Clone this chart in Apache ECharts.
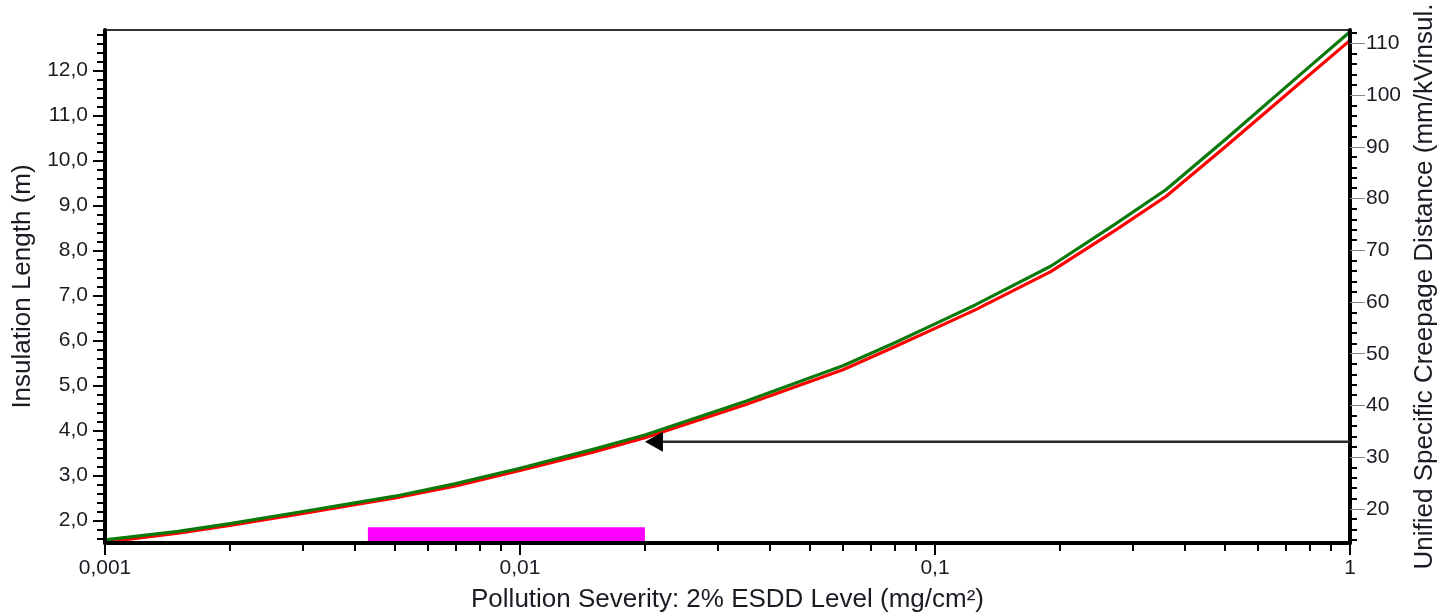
<!DOCTYPE html>
<html>
<head>
<meta charset="utf-8">
<script src="https://cdn.jsdelivr.net/npm/echarts@6/dist/echarts.min.js"></script>
<style>
  html, body { margin: 0; padding: 0; background: #fff; }
  #chart { width: 1442px; height: 616px; }
</style>
</head>
<body>
<div id="chart"></div>
<script>
// ESDD levels (mg/cm²) where the two curves are sampled
const esdd = [0.001, 0.0015, 0.002, 0.003, 0.004, 0.005, 0.007, 0.01, 0.015, 0.02, 0.035,
              0.06, 0.08, 0.1, 0.125, 0.19, 0.27, 0.36, 0.5, 0.75, 1];
// Required insulation length (m), upper (green) curve
const lengthGreen = [1.57, 1.76, 1.93, 2.20, 2.39, 2.54, 2.82, 3.16, 3.58, 3.90, 4.65,
                     5.44, 5.95, 6.37, 6.79, 7.65, 8.57, 9.35, 10.46, 11.87, 12.86];
// Required insulation length (m), lower (red) curve
const lengthRed = [1.52, 1.72, 1.89, 2.16, 2.35, 2.50, 2.77, 3.11, 3.52, 3.84, 4.58,
                   5.35, 5.86, 6.27, 6.68, 7.53, 8.43, 9.20, 10.30, 11.69, 12.67];

// Site pollution range marked along the ESDD axis, and its height in metres
const rangeEsdd = [0.0043, 0.02];
const rangeLength = [1.5, 1.85];

// Reading arrow: USCD value (right axis) and the ESDD span it covers
const arrowUscd = 33;
const arrowEsdd = [0.02, 1];

// Axis ranges
const xRange = [0.001, 1];
const leftRange = [1.5, 12.9];
const rightRange = [13.4, 112.6];

// Tick labels
const xLabelValues = [0.001, 0.01, 0.1, 1];
const xLabelTexts = ['0,001', '0,01', '0,1', '1'];
const leftLabelValues = [2, 3, 4, 5, 6, 7, 8, 9, 10, 11, 12];
const leftLabelTexts = ['2,0', '3,0', '4,0', '5,0', '6,0', '7,0', '8,0', '9,0', '10,0', '11,0', '12,0'];
const rightLabelValues = [20, 30, 40, 50, 60, 70, 80, 90, 100, 110];

// Minor tick positions: 2..9 within each decade, every 0.2 m, every 2 mm/kV
const xMinorValues = [];
[0.001, 0.01, 0.1].forEach(d => { for (let k = 2; k <= 9; k++) xMinorValues.push(+(d * k).toPrecision(6)); });
const leftMinorValues = [];
for (let v = 16; v <= 128; v += 2) if (v % 10 !== 0) leftMinorValues.push(v / 10);
const rightMinorValues = [];
for (let v = 14; v <= 112; v += 2) if (v % 10 !== 0) rightMinorValues.push(v);

const FONT = '"Liberation Sans", Arial, Helvetica, sans-serif';
const TEXT = '#1b1b24';

const chart = echarts.init(document.getElementById('chart'), null, { renderer: 'canvas' });

const plainAxis = {
  axisLine: { show: false },
  axisLabel: { show: false },
  splitLine: { show: false },
  minorTick: { show: false },
  minorSplitLine: { show: false },
  z: 5
};

chart.setOption({
  animation: false,
  backgroundColor: '#fff',
  grid: {
    left: 105, right: 92, top: 30, bottom: 73,
    outerBoundsMode: 'none', containLabel: false,
    show: true, borderColor: '#333', borderWidth: 2, backgroundColor: '#fff'
  },
  xAxis: [
    {
      type: 'log', logBase: 10, min: xRange[0], max: xRange[1], position: 'bottom', z: 5,
      name: 'Pollution Severity: 2% ESDD Level (mg/cm²)',
      nameLocation: 'middle', nameGap: 44,
      nameTextStyle: { fontSize: 26, color: TEXT, fontFamily: FONT },
      axisLine: { show: true, onZero: false, lineStyle: { color: '#000', width: 4 } },
      axisTick: { show: true, customValues: xLabelValues, length: 12, lineStyle: { color: '#000', width: 2 } },
      axisLabel: {
        customValues: xLabelValues, margin: 15, fontSize: 21, color: TEXT, fontFamily: FONT,
        formatter: v => xLabelTexts[Math.round(Math.log10(v)) + 3]
      },
      splitLine: { show: false }, minorTick: { show: false }, minorSplitLine: { show: false }
    },
    Object.assign({}, plainAxis, {
      type: 'log', logBase: 10, min: xRange[0], max: xRange[1], position: 'bottom',
      axisTick: { show: true, customValues: xMinorValues, length: 8, lineStyle: { color: '#000', width: 2 } }
    })
  ],
  yAxis: [
    {
      type: 'value', min: leftRange[0], max: leftRange[1], position: 'left', z: 5,
      name: 'Insulation Length (m)', nameLocation: 'middle', nameRotate: 90, nameGap: 66,
      nameTextStyle: { fontSize: 26, color: TEXT, fontFamily: FONT },
      axisLine: { show: true, onZero: false, lineStyle: { color: '#000', width: 4 } },
      axisTick: { show: true, customValues: leftLabelValues, length: 12, lineStyle: { color: '#000', width: 2 } },
      axisLabel: {
        customValues: leftLabelValues, margin: 17, fontSize: 21, color: TEXT, fontFamily: FONT,
        formatter: v => leftLabelTexts[leftLabelValues.indexOf(Math.round(v))]
      },
      splitLine: { show: false }, minorTick: { show: false }, minorSplitLine: { show: false }
    },
    {
      type: 'value', min: rightRange[0], max: rightRange[1], position: 'right', z: 5,
      name: 'Unified Specific Creepage Distance (mm/kVinsul.', nameLocation: 'middle', nameRotate: 90, nameGap: 60,
      nameTextStyle: { fontSize: 26, color: TEXT, fontFamily: FONT },
      axisLine: { show: true, onZero: false, lineStyle: { color: '#000', width: 4 } },
      axisTick: { show: true, customValues: rightLabelValues, length: 15, lineStyle: { color: '#888', width: 1 } },
      axisLabel: {
        customValues: rightLabelValues, margin: 16, fontSize: 21, color: TEXT, fontFamily: FONT,
        formatter: v => String(Math.round(v))
      },
      splitLine: { show: false }, minorTick: { show: false }, minorSplitLine: { show: false }
    },
    Object.assign({}, plainAxis, {
      type: 'value', min: leftRange[0], max: leftRange[1], position: 'left',
      axisTick: { show: true, customValues: leftMinorValues, length: 8, lineStyle: { color: '#000', width: 2 } }
    }),
    Object.assign({}, plainAxis, {
      type: 'value', min: rightRange[0], max: rightRange[1], position: 'right',
      axisTick: { show: true, customValues: rightMinorValues, length: 7, lineStyle: { color: '#000', width: 2 } }
    })
  ],
  series: [
    {
      // marked pollution range
      type: 'custom', xAxisIndex: 0, yAxisIndex: 0, z: 1, silent: true,
      encode: { x: [0, 1], y: [2, 3] },
      data: [[rangeEsdd[0], rangeEsdd[1], rangeLength[0], rangeLength[1]]],
      renderItem: (params, api) => {
        const a = api.coord([api.value(0), api.value(3)]);
        const b = api.coord([api.value(1), api.value(2)]);
        return { type: 'rect', shape: { x: a[0], y: a[1], width: b[0] - a[0], height: b[1] - a[1] },
                 style: { fill: '#ff00ff' } };
      }
    },
    {
      type: 'line', name: 'lower', xAxisIndex: 0, yAxisIndex: 0, z: 3,
      data: esdd.map((x, i) => [x, lengthRed[i]]),
      showSymbol: false, symbol: 'none', smooth: false,
      lineStyle: { color: '#ff0000', width: 3.2, join: 'round' }
    },
    {
      type: 'line', name: 'upper', xAxisIndex: 0, yAxisIndex: 0, z: 4,
      data: esdd.map((x, i) => [x, lengthGreen[i]]),
      showSymbol: false, symbol: 'none', smooth: false,
      lineStyle: { color: '#0b7a0b', width: 3.2, join: 'round' }
    },
    {
      // reading arrow from the USCD axis back to the curve
      type: 'custom', xAxisIndex: 0, yAxisIndex: 1, z: 6, silent: true,
      encode: { x: [0, 1], y: 2 },
      data: [[arrowEsdd[0], arrowEsdd[1], arrowUscd]],
      renderItem: (params, api) => {
        const tip = api.coord([api.value(0), api.value(2)]);
        const end = api.coord([api.value(1), api.value(2)]);
        const headLen = 18, headHalf = 10;
        return {
          type: 'group',
          children: [
            { type: 'line', shape: { x1: tip[0] + headLen - 1, y1: tip[1], x2: end[0], y2: end[1] },
              style: { stroke: '#2a2a2a', lineWidth: 2.5 } },
            { type: 'polygon',
              shape: { points: [[tip[0], tip[1]], [tip[0] + headLen, tip[1] - headHalf], [tip[0] + headLen, tip[1] + headHalf]] },
              style: { fill: '#000' } }
          ]
        };
      }
    }
  ]
});
</script>
</body>
</html>
